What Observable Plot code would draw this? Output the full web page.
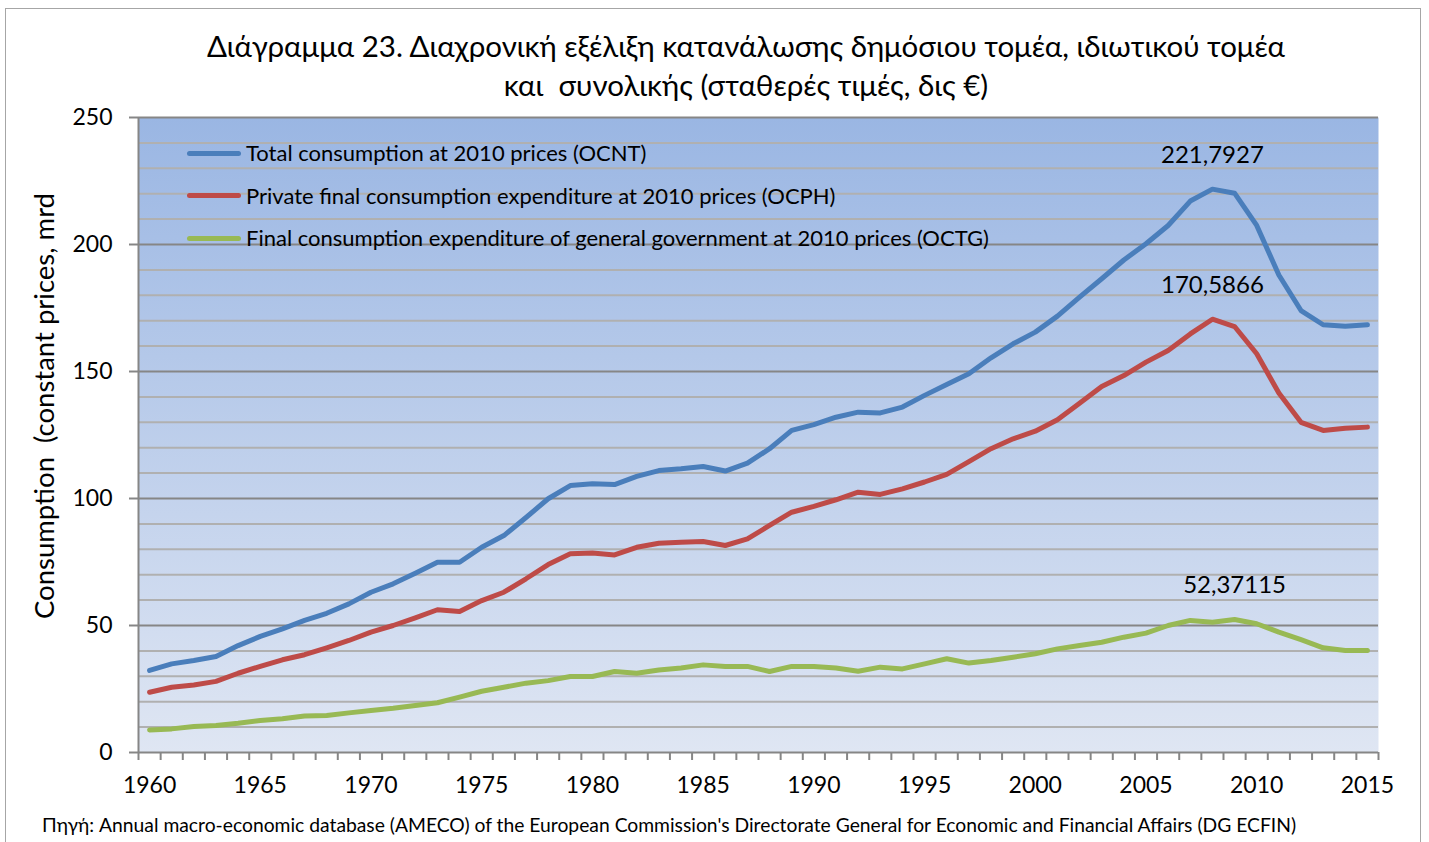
<!DOCTYPE html>
<html>
<head>
<meta charset="utf-8">
<script src="https://cdn.jsdelivr.net/npm/d3@7"></script>
<script src="https://cdn.jsdelivr.net/npm/@observablehq/plot@0.6"></script>
<style>
  body { margin: 0; background: #ffffff; font-family: Lato, "Open Sans", sans-serif; }
  #wrap { position: relative; width: 1429px; height: 842px; overflow: hidden; background: #fff; }
  #border { position: absolute; left: 5px; top: 8px; width: 1416px; height: 900px; border: 1px solid #a6a6a6; box-sizing: border-box; }
  #title { position: absolute; left: 0; top: 26px; width: 1492px; text-align: center; font-size: 29.5px; line-height: 39px; color: #000; white-space: pre; }
  #chart { position: absolute; left: 0; top: 100px; }
  #legend { position: absolute; left: 187px; top: 0; }
  .item { position: absolute; left: 0; white-space: nowrap; font-size: 22px; color: #000; height: 26px; line-height: 26px; }
  .swatch { display: inline-block; width: 54px; height: 5px; border-radius: 3px; vertical-align: middle; margin-right: 5px; position: relative; top: -2px; }
  #caption { position: absolute; left: 42px; top: 813px; font-size: 19.3px; white-space: nowrap; color: #000; }
</style>
</head>
<body>
<div id="wrap">
  <div id="border"></div>
  <div id="title"></div>
  <div id="chart"></div>
  <div id="legend"></div>
  <div id="caption"></div>
</div>
<script>
// ---- data ----
const titleLines = [
  "Διάγραμμα 23. Διαχρονική εξέλιξη κατανάλωσης δημόσιου τομέα, ιδιωτικού τομέα",
  "και  συνολικής (σταθερές τιμές, δις €)"
];
const yAxisLabel = "Consumption  (constant prices, mrd";
const captionText = "Πηγή: Annual macro-economic database (AMECO) of the European Commission's Directorate General for Economic and Financial Affairs (DG ECFIN)";

const years = d3.range(1960, 2016);

const totalValues = [
  32.3, 34.9, 36.2, 37.8, 42.1, 45.7, 48.7, 52.0, 54.8, 58.5,
  63.1, 66.4, 70.6, 74.9, 74.9, 80.8, 85.4, 92.5, 99.9, 105.1,
  105.8, 105.5, 108.7, 111.0, 111.7, 112.6, 110.8, 113.9, 119.6, 126.8,
  129.1, 132.0, 134.0, 133.7, 136.0, 140.6, 144.9, 149.1, 155.4, 160.9,
  165.5, 171.8, 179.3, 186.5, 193.9, 200.3, 207.5, 217.1, 221.7927, 220.2,
  207.5, 188.0, 174.0, 168.4, 167.8, 168.4
];
const privateValues = [
  23.7, 25.7, 26.6, 28.0, 31.2, 33.9, 36.5, 38.5, 41.2, 44.1,
  47.4, 50.0, 53.0, 56.2, 55.5, 59.8, 63.1, 68.4, 74.0, 78.2,
  78.5, 77.8, 80.8, 82.4, 82.8, 83.1, 81.5, 84.1, 89.4, 94.6,
  96.9, 99.5, 102.5, 101.6, 103.8, 106.5, 109.5, 114.5, 119.6, 123.5,
  126.5, 131.0, 137.5, 144.1, 148.4, 153.7, 158.3, 164.8, 170.5866, 167.7,
  157.0, 141.5, 130.0, 126.8, 127.7, 128.1
];
const govValues = [
  8.9, 9.3, 10.2, 10.6, 11.5, 12.6, 13.3, 14.4, 14.6, 15.6,
  16.5, 17.4, 18.5, 19.6, 21.8, 24.1, 25.7, 27.3, 28.3, 29.9,
  29.9, 31.9, 31.2, 32.5, 33.3, 34.5, 33.9, 33.9, 31.9, 33.9,
  33.9, 33.3, 32.0, 33.6, 32.9, 34.9, 36.9, 35.2, 36.2, 37.5,
  38.9, 40.8, 42.1, 43.4, 45.4, 47.0, 50.0, 52.0, 51.3, 52.37115,
  50.7, 47.4, 44.4, 41.2, 40.2, 40.2
];

const seriesNames = [
  "Total consumption at 2010 prices (OCNT)",
  "Private final consumption expenditure at 2010 prices (OCPH)",
  "Final consumption expenditure of general government at 2010 prices (OCTG)"
];
const seriesColors = ["#4a7ebb", "#be4b48", "#98b954"];
const seriesValues = [totalValues, privateValues, govValues];

const yTicks = [0, 50, 100, 150, 200, 250];
const yMinor = d3.range(10, 250, 10).filter(v => v % 50 !== 0);
const xLabelYears = [1960, 1965, 1970, 1975, 1980, 1985, 1990, 1995, 2000, 2005, 2010, 2015];

// ---- build rows ----
const rows = [];
seriesValues.forEach((vals, i) => {
  vals.forEach((v, j) => rows.push({ series: seriesNames[i], color: seriesColors[i], year: years[j], value: v }));
});
const peaks = seriesValues.map((vals, i) => {
  const m = d3.maxIndex(vals);
  return { year: years[m], value: vals[m], label: String(vals[m]).replace(".", ",") };
});
const boundaries = years.map(y => y - 0.5).concat([years[years.length - 1] + 0.5]);

// ---- title/caption ----
document.getElementById("title").innerHTML = titleLines.map(t => `<div>${t}</div>`).join("");
document.getElementById("caption").textContent = captionText;

// ---- legend ----
const legend = document.getElementById("legend");
seriesNames.forEach((name, i) => {
  const div = document.createElement("div");
  div.className = "item";
  div.style.top = (140 + i * 42.5) + "px";
  div.innerHTML = `<span class="swatch" style="background:${seriesColors[i]}"></span>${name}`;
  legend.appendChild(div);
});

// ---- chart ----
const font = 'Lato, "Open Sans", sans-serif';
const chart = Plot.plot({
  width: 1429,
  height: 710,
  marginLeft: 138,
  marginRight: 51,
  marginTop: 17,
  marginBottom: 58,
  x: { domain: [1959.5, 2015.5] },
  y: { domain: [0, 250] },
  style: { fontFamily: font, fontSize: "23px", color: "#000", background: "transparent", overflow: "visible" },
  marks: [
    Plot.frame({ fill: "url(#bgGrad)", stroke: null }),
    Plot.ruleY(yMinor, { stroke: "#b0b0b0", strokeWidth: 2 }),
    Plot.ruleY(yTicks, { stroke: "#868686", strokeWidth: 2 }),
    Plot.ruleX([boundaries[0]], { stroke: "#868686", strokeWidth: 2 }),
    Plot.axisY(yTicks, { tickSize: 9, tickPadding: 17, stroke: "#868686", strokeWidth: 2, strokeOpacity: 1, label: null, fontSize: 23 }),
    Plot.axisX(boundaries, { tickSize: 8, stroke: "#868686", strokeWidth: 2, strokeOpacity: 1, tickFormat: () => "", label: null }),
    Plot.axisX(xLabelYears, { tickSize: 0, tickPadding: 24, tickFormat: d => String(d), label: null, fontSize: 23 }),
    ...seriesNames.map((name, i) =>
      Plot.line(rows.filter(r => r.series === name), {
        x: "year", y: "value", stroke: seriesColors[i], strokeWidth: 5, strokeLinejoin: "round", strokeLinecap: "round"
      })
    ),
    Plot.text(peaks, { x: "year", y: "value", text: "label", dy: -34, fontSize: 24, fill: "#000" }),
    Plot.text([yAxisLabel], { frameAnchor: "left", dx: -93, dy: -29, rotate: -90, textAnchor: "middle", fontSize: 27.5, fill: "#000" })
  ]
});

// gradient definition
const svg = d3.select(chart);
const grad = svg.insert("defs", ":first-child").append("linearGradient")
  .attr("id", "bgGrad").attr("x1", 0).attr("y1", 0).attr("x2", 0).attr("y2", 1);
grad.append("stop").attr("offset", "0%").attr("stop-color", "#9ab6e3");
grad.append("stop").attr("offset", "100%").attr("stop-color", "#dfe6f3");
svg.selectAll("text").style("white-space", "pre");

document.getElementById("chart").appendChild(chart);
</script>
</body>
</html>
